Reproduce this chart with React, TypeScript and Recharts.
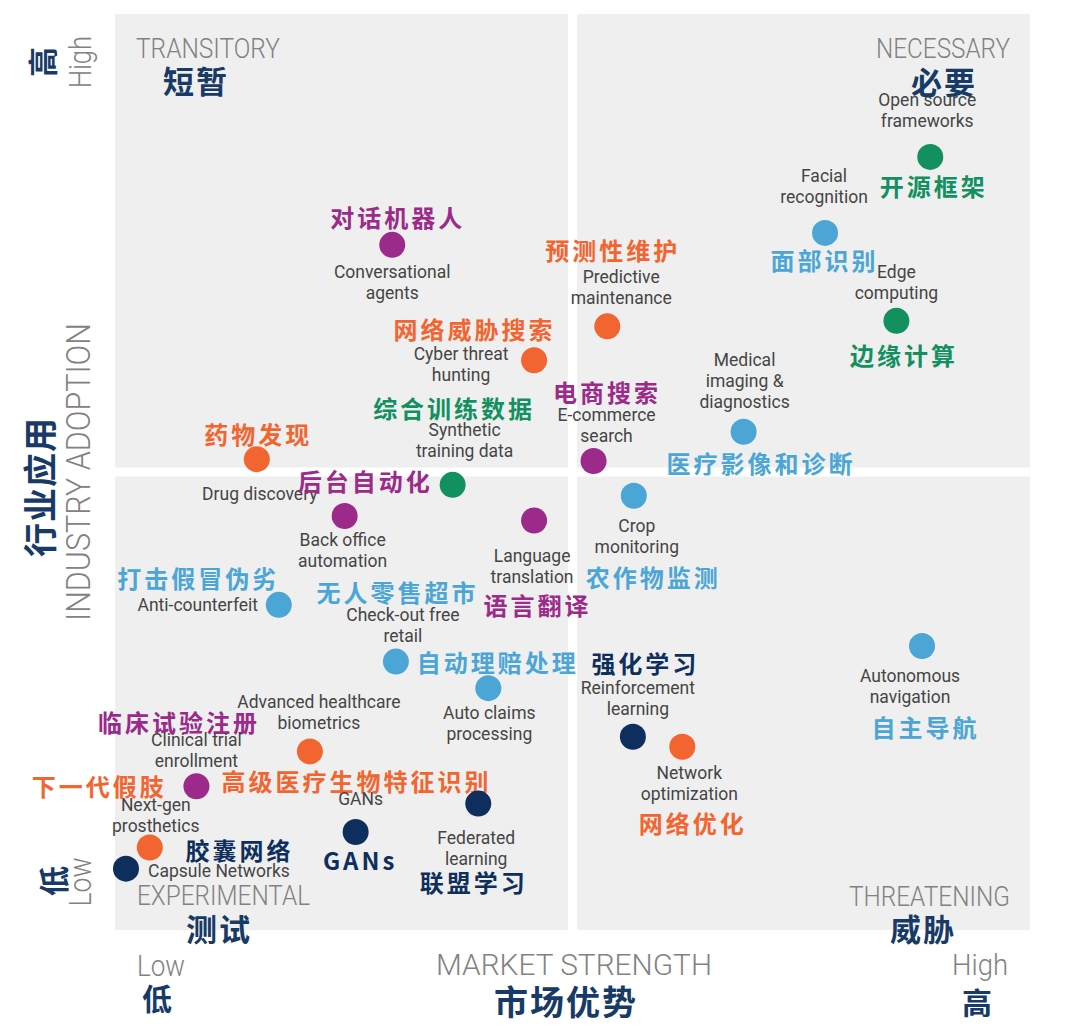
import React from 'react';
import { ScatterChart, Scatter, XAxis, YAxis, ReferenceArea } from 'recharts';

// technologies (English / Chinese)
const EN_LABELS = [
  'Open source\nframeworks', 'Facial\nrecognition', 'Edge\ncomputing', 'Conversational\nagents',
  'Predictive\nmaintenance', 'Cyber threat\nhunting', 'Medical\nimaging &\ndiagnostics', 'E-commerce\nsearch',
  'Drug discovery', 'Synthetic\ntraining data', 'Crop\nmonitoring', 'Back office\nautomation',
  'Language\ntranslation', 'Anti-counterfeit', 'Autonomous\nnavigation', 'Check-out free\nretail',
  'Auto claims\nprocessing', 'Reinforcement\nlearning', 'Network\noptimization', 'Advanced healthcare\nbiometrics',
  'Clinical trial\nenrollment', 'Federated\nlearning', 'GANs', 'Next-gen\nprosthetics', 'Capsule Networks',
];
const ZH_LABELS = [
  '开源框架', '面部识别', '边缘计算', '对话机器人', '预测性维护', '网络威胁搜索', '医疗影像和诊断', '电商搜索',
  '药物发现', '综合训练数据', '农作物监测', '后台自动化', '语言翻译', '打击假冒伪劣', '自主导航', '无人零售超市',
  '自动理赔处理', '强化学习', '网络优化', '高级医疗生物特征识别', '临床试验注册', '联盟学习', 'GANs', '下一代假肢', '胶囊网络',
];
// market strength (x) and industry adoption (y), 0-100
const MARKET_STRENGTH = [
  89.1, 77.6, 85.4, 30.3, 53.8, 45.8, 68.7, 52.3, 15.5, 36.9, 56.7, 25.1, 45.8,
  17.9, 88.2, 30.7, 40.8, 56.6, 62.0, 21.3, 8.9, 39.7, 26.3, 3.8, 1.2,
];
const INDUSTRY_ADOPTION = [
  84.4, 76.1, 66.5, 74.8, 65.9, 62.2, 54.4, 51.2, 51.4, 48.6, 47.4, 45.2, 44.7,
  35.5, 31.0, 29.3, 26.4, 21.1, 20.0, 19.5, 15.7, 13.8, 10.7, 9.0, 6.7,
];
// colour group of each point
const GROUPS = [
  'green', 'blue', 'green', 'purple', 'orange', 'orange', 'blue', 'purple', 'orange', 'green', 'blue', 'purple', 'purple',
  'blue', 'blue', 'blue', 'blue', 'navy', 'orange', 'orange', 'purple', 'navy', 'navy', 'orange', 'navy',
];

const QUADRANT_EN = ['TRANSITORY', 'NECESSARY', 'EXPERIMENTAL', 'THREATENING'];
const QUADRANT_ZH = ['短暂', '必要', '测试', '威胁'];

const COLORS: Record<string, string> = {
  green: '#12905f',
  blue: '#4ba6d6',
  purple: '#9b2a8b',
  orange: '#f26530',
  navy: '#0e2f5d',
};

// label offsets from the dot: [zhDx, zhDy, enDx, enDy of first line]
const LABEL_LAYOUT = [
  [2, 29, -3, -57], [-2, 27, -1, -57], [6, 34, 0, -49], [4, -28, 0, 27],
  [4, -77, 14, -49], [-61, -32, -73, -6], [16, 31, 1, -72], [12, -70, 13, -46],
  [0, -26, 3, 35], [0, -77, 12, -55], [18, 81, 3, 30], [19, -35, -2, 24],
  [2, 84, -2, 35], [-82, -27, -81, 0], [2, 80, -12, 30], [0, -70, 7, -47],
  [8, -27, 1, 25], [11, -74, 5, -49], [9, 76, 7, 26], [45, 29, 9, -49],
  [-19, -65, 0, -46], [-6, 78, -2, 34], [3, 28, 5, -33], [-52, -62, 6, -43],
  [112, -19, 93, 2],
];

const points = MARKET_STRENGTH.map((x, i) => ({ x, y: INDUSTRY_ADOPTION[i], i }));

const NAVY = '#173a66';
const GREY = '#828282';
const ZH_FONT = '"Noto Sans CJK SC", sans-serif';
const EN_FONT = 'Roboto, sans-serif';

const PointShape = (props: any) => {
  const { cx, cy, payload } = props;
  const i = payload.i;
  const color = COLORS[GROUPS[i]];
  const [zx, zy, ex, ey] = LABEL_LAYOUT[i];
  const lines = EN_LABELS[i].split('\n');
  return (
    <g>
      <circle cx={cx} cy={cy} r={13} fill={color} />
      <text x={cx + zx + 1.5} y={cy + zy} textAnchor="middle" dominantBaseline="central"
        fontFamily={ZH_FONT} fontWeight={700} fontSize={24} letterSpacing={3} fill={color}>
        {ZH_LABELS[i]}
      </text>
      {lines.map((l, k) => (
        <text key={k} x={cx + ex} y={cy + ey + k * 21} textAnchor="middle" dominantBaseline="central"
          fontFamily={EN_FONT} fontSize={17.5} fill="#454545">
          {l}
        </text>
      ))}
    </g>
  );
};

const Thin = ({ x, y, len, size = 28, anchor = 'start', rotate = false, children }: any) => (
  <text x={x} y={y} textAnchor={anchor} dominantBaseline={rotate ? 'central' : 'auto'}
    transform={rotate ? `rotate(-90 ${x} ${y})` : undefined}
    fontFamily={EN_FONT} fontWeight={300} fontSize={size} fill={GREY}
    textLength={len} lengthAdjust="spacingAndGlyphs">
    {children}
  </text>
);

const Zh = ({ x, y, size = 31, spacing = 2, rotate = false, children }: any) => (
  <text x={x} y={y} textAnchor="middle" dominantBaseline="central"
    transform={rotate ? `rotate(-90 ${x} ${y})` : undefined}
    fontFamily={ZH_FONT} fontWeight={700} fontSize={size} letterSpacing={spacing} fill={NAVY}>
    {children}
  </text>
);

export default function App() {
  return (
    <div style={{ position: 'absolute', left: 0, top: 0, width: 1080, height: 1032, background: '#fff' }}>
      <ScatterChart width={1080} height={1032} margin={{ top: 14, right: 50, bottom: 102, left: 115 }}>
        <XAxis type="number" dataKey="x" domain={[0, 100]} hide />
        <YAxis type="number" dataKey="y" domain={[0, 100]} hide />
        <ReferenceArea x1={0} x2={49.5} y1={50.5} y2={100} fill="#efefef" fillOpacity={1} stroke="none" />
        <ReferenceArea x1={50.5} x2={100} y1={50.5} y2={100} fill="#efefef" fillOpacity={1} stroke="none" />
        <ReferenceArea x1={0} x2={49.5} y1={0} y2={49.5} fill="#efefef" fillOpacity={1} stroke="none" />
        <ReferenceArea x1={50.5} x2={100} y1={0} y2={49.5} fill="#efefef" fillOpacity={1} stroke="none" />
        <Scatter data={points} shape={PointShape} isAnimationActive={false} />
      </ScatterChart>
      <svg width={1080} height={1032} style={{ position: 'absolute', left: 0, top: 0, pointerEvents: 'none' }}>
        {/* quadrant titles */}
        <Thin x={136} y={58} len={144}>{QUADRANT_EN[0]}</Thin>
        <Zh x={196} y={79}>{QUADRANT_ZH[0]}</Zh>
        <Thin x={876} y={58} len={134}>{QUADRANT_EN[1]}</Thin>
        <Zh x={944} y={80}>{QUADRANT_ZH[1]}</Zh>
        <Thin x={137} y={905} len={173}>{QUADRANT_EN[2]}</Thin>
        <Zh x={219} y={927}>{QUADRANT_ZH[2]}</Zh>
        <Thin x={849} y={906} len={161}>{QUADRANT_EN[3]}</Thin>
        <Zh x={923} y={927}>{QUADRANT_ZH[3]}</Zh>

        {/* y axis */}
        <Zh x={41} y={62} size={30} spacing={0} rotate>高</Zh>
        <Thin x={80} y={62} len={52} size={31} anchor="middle" rotate>High</Thin>
        <Zh x={52} y={881} size={30} spacing={0} rotate>低</Zh>
        <Thin x={80} y={882} len={49} size={31} anchor="middle" rotate>Low</Thin>
        <Zh x={38} y={487} size={34} spacing={1} rotate>行业应用</Zh>
        <Thin x={78} y={472} len={298} size={33} anchor="middle" rotate>INDUSTRY ADOPTION</Thin>

        {/* x axis */}
        <Thin x={137} y={976} len={48} size={29}>Low</Thin>
        <Zh x={157} y={997} size={30} spacing={0}>低</Zh>
        <Thin x={436} y={975} len={276} size={30}>MARKET STRENGTH</Thin>
        <Zh x={566} y={1000} size={34} spacing={2}>市场优势</Zh>
        <Thin x={952} y={975} len={56} size={29}>High</Thin>
        <Zh x={977} y={1001} size={30} spacing={0}>高</Zh>
      </svg>
    </div>
  );
}
